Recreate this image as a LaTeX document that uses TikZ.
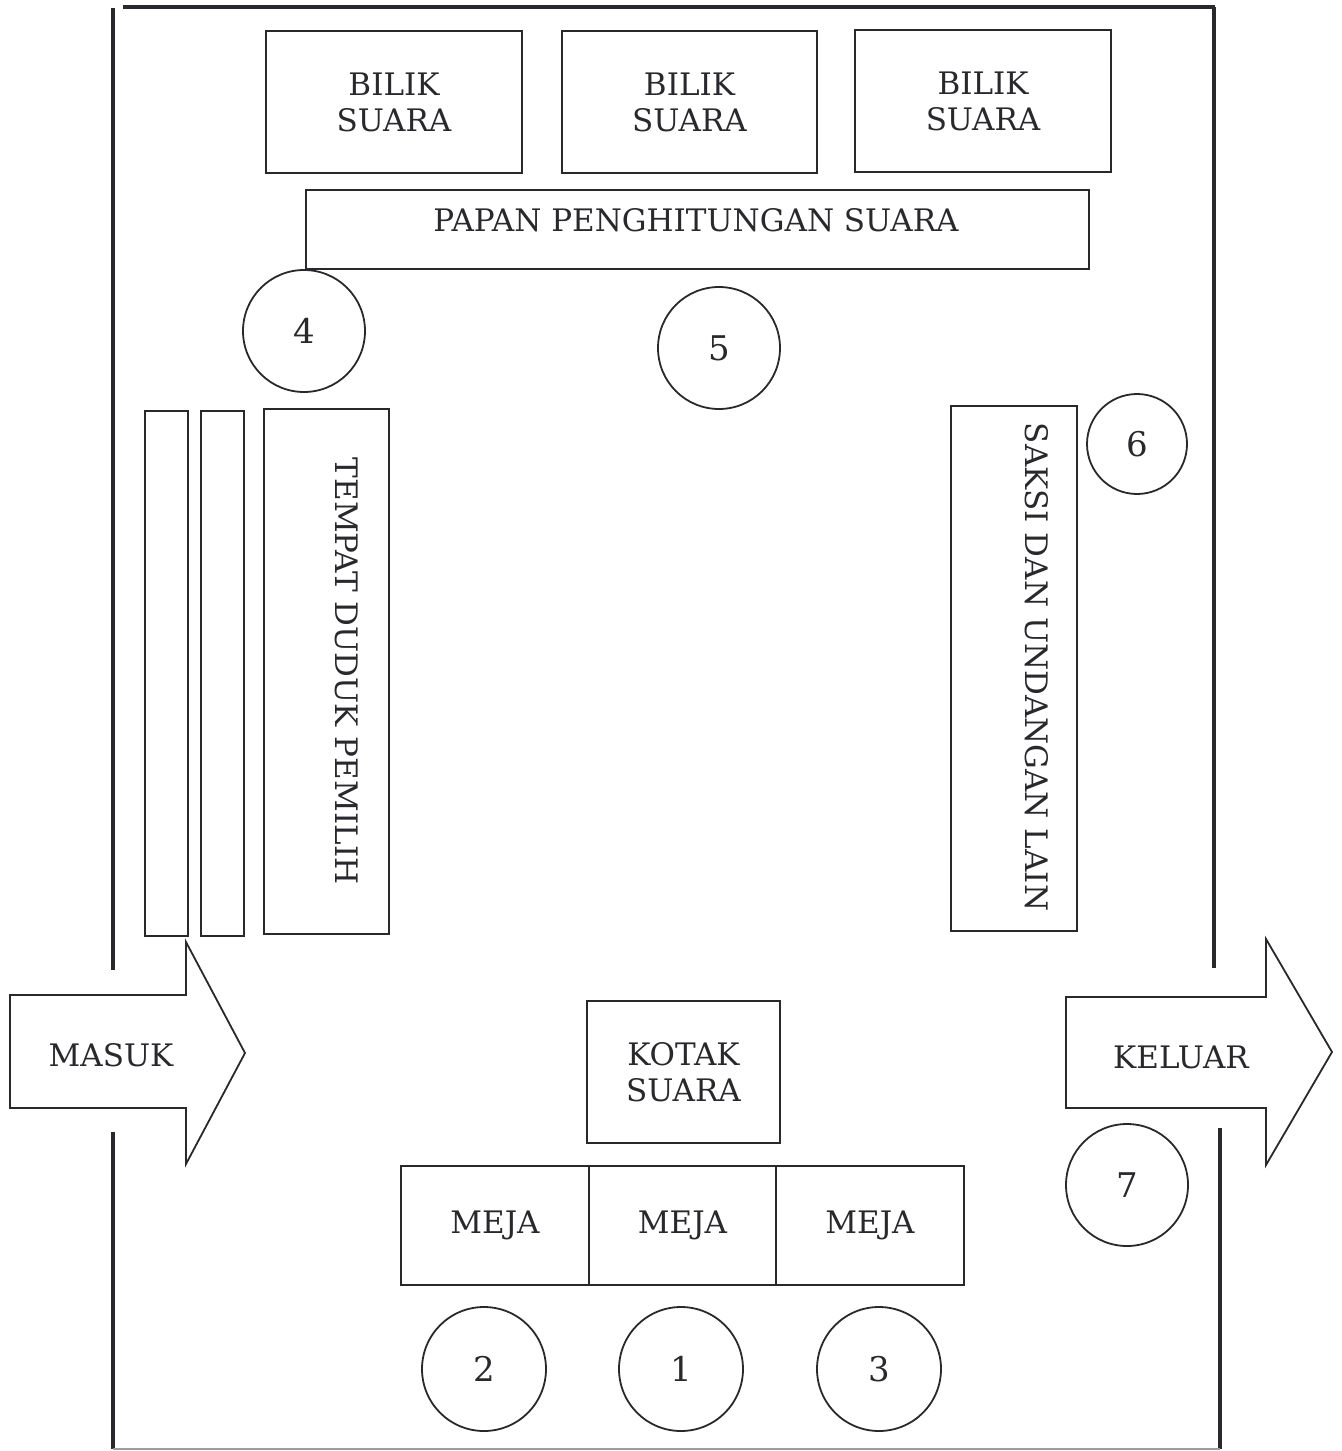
\documentclass[tikz,border=0pt]{standalone}
\usepackage{tikz}
\usepackage{xcolor}
\usepackage{fontspec}
\setmainfont{DejaVu Serif}

\definecolor{ink}{RGB}{40,40,45}
\tikzset{
  wall/.style={draw=ink, line width=2pt},
  box/.style={draw=ink, line width=0.9pt, rectangle, inner sep=0pt, align=center, text=ink, font=\fontsize{15.5}{18}\selectfont},
  post/.style={draw=ink, line width=0.9pt, circle, inner sep=0pt, text=ink, font=\fontsize{17}{20}\selectfont},
  lbl/.style={inner sep=0pt, text=ink, font=\fontsize{15.5}{18}\selectfont}
}

\begin{document}
\begin{tikzpicture}[x=0.5pt,y=0.5pt,yscale=-1,xscale=1]
            \useasboundingbox (0,0) rectangle (1341,1451);

            %Walls
            \draw [wall]   (123,7) -- (1215,7) ;
            \draw [wall]   (113,8) -- (113,970) ;
            \draw [wall]   (1214,7) -- (1214,968) ;
            \draw [wall]   (113,1132) -- (113,1449) ;
            \draw [wall]   (1220,1128) -- (1220,1449) ;
            \draw [draw=ink!45, line width=1.4pt]   (113,1449) -- (1220,1449) ;

            %Shape: Rectangle -- bilik suara
            \node [box, minimum width=128pt, minimum height=71pt] (bilikA) at (394,102) {BILIK\\SUARA};
            \node [box, minimum width=127.5pt, minimum height=71pt] (bilikB) at (689.5,102) {BILIK\\SUARA};
            \node [box, minimum width=128pt, minimum height=71pt] (bilikC) at (983,101) {BILIK\\SUARA};
            %Shape: Rectangle -- papan
            \node [box, minimum width=391.5pt, minimum height=39.5pt] (papan) at (697.5,229.5) {};
            \node [lbl] (papanText) at (696,220) {PAPAN PENGHITUNGAN SUARA};

            %Shape: Rectangle -- tempat duduk
            \node [box, minimum width=21.5pt, minimum height=262.5pt] (seatA) at (166.5,673.5) {};
            \node [box, minimum width=21.5pt, minimum height=262.5pt] (seatB) at (222.5,673.5) {};
            \node [box, minimum width=62.5pt, minimum height=262.5pt] (seatC) at (326.5,671.5) {};
            \node [lbl, rotate=-90] (seatText) at (347,671) {TEMPAT DUDUK PEMILIH};

            %Shape: Rectangle -- saksi
            \node [box, minimum width=63pt, minimum height=262.5pt] (saksi) at (1014,668.5) {};
            \node [lbl, rotate=-90] (saksiText) at (1037,667) {SAKSI DAN UNDANGAN LAIN};

            %Shape: Rectangle -- kotak dan meja
            \node [box, minimum width=96.5pt, minimum height=71pt] (kotak) at (683.5,1072) {KOTAK\\SUARA};
            \node [box, minimum width=94pt, minimum height=59.5pt] (mejaA) at (495,1225.5) {MEJA};
            \node [box, minimum width=93.5pt, minimum height=59.5pt] (mejaB) at (682.5,1225.5) {MEJA};
            \node [box, minimum width=94pt, minimum height=59.5pt] (mejaC) at (870,1225.5) {MEJA};

            %Shape: Circle
            \node [post, minimum size=61pt] (p4) at (304,331) {4};
            \node [post, minimum size=61pt] (p5) at (719,348) {5};
            \node [post, minimum size=50pt] (p6) at (1137,444) {6};
            \node [post, minimum size=61pt] (p7) at (1127,1185) {7};
            \node [post, minimum size=62pt] (p2) at (484,1369) {2};
            \node [post, minimum size=62pt] (p1) at (681,1369) {1};
            \node [post, minimum size=62pt] (p3) at (879,1369) {3};

            %Shape: Right Arrow -- masuk
            \draw [draw=ink, line width=0.9pt] (10,995) -- (186,995) -- (186,942) -- (245,1053) -- (186,1164) -- (186,1108) -- (10,1108) -- cycle ;
            \node [lbl] (masuk) at (111,1055) {MASUK};
            %Shape: Right Arrow -- keluar
            \draw [draw=ink, line width=0.9pt] (1066,997) -- (1266,997) -- (1266,939) -- (1332,1052) -- (1266,1165) -- (1266,1108) -- (1066,1108) -- cycle ;
            \node [lbl] (keluar) at (1181,1057) {KELUAR};

\end{tikzpicture}
\end{document}
